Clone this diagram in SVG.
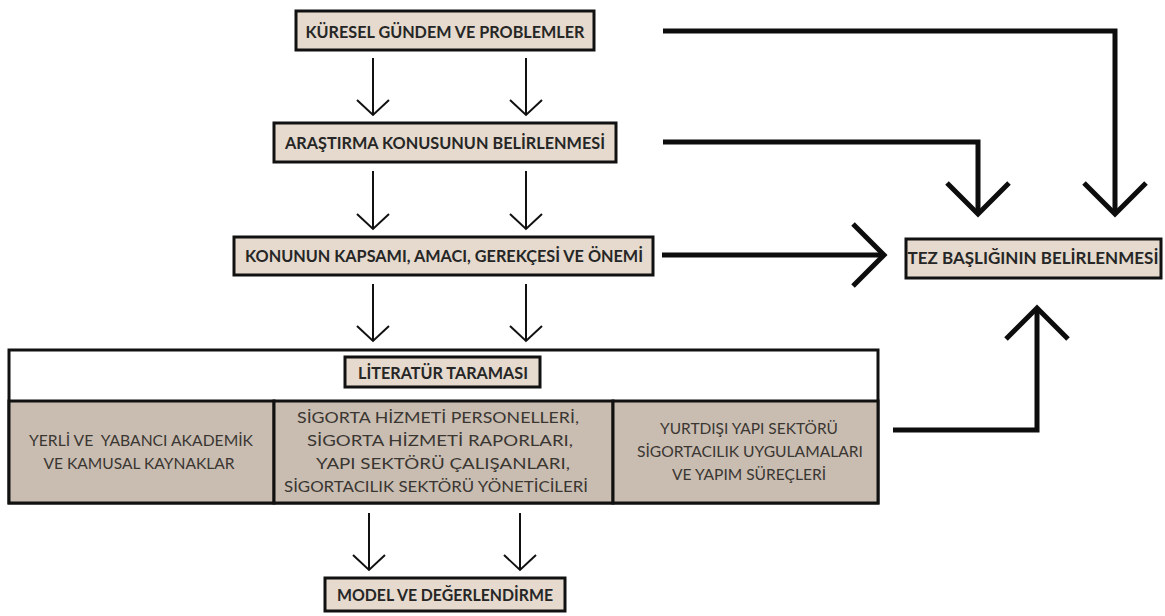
<svg xmlns="http://www.w3.org/2000/svg" width="1165" height="616" viewBox="0 0 1165 616">
<style>
.box{fill:#e5dacd;stroke:#111;stroke-width:3}
.cell{fill:#c9bdb1;stroke:#111;stroke-width:3}
.outer{fill:#fff;stroke:#111;stroke-width:3}
.ht{font-family:Lato,"Open Sans","Liberation Sans",sans-serif;font-weight:700;font-size:17px;fill:#262626;text-anchor:middle}
.ct{font-family:Lato,"Open Sans","Liberation Sans",sans-serif;font-weight:400;font-size:16px;fill:#3a3632;text-anchor:middle;white-space:pre}
.thin{fill:none;stroke:#111;stroke-width:2;marker-end:url(#hThin)}
.thick{fill:none;stroke:#0d0d0d;stroke-width:5;stroke-linejoin:miter;marker-end:url(#hThick)}
</style>
<defs>
<marker id="hThin" markerUnits="userSpaceOnUse" viewBox="-40 -40 80 80" markerWidth="80" markerHeight="80" refX="0" refY="0" orient="auto" overflow="visible">
<path d="M-15,-16 L0,0 L-15,16" fill="none" stroke="#111" stroke-width="2"/>
</marker>
<marker id="hThick" markerUnits="userSpaceOnUse" viewBox="-60 -60 120 120" markerWidth="120" markerHeight="120" refX="0" refY="0" orient="auto" overflow="visible">
<path d="M-31,-31 L0,0 L-31,31" fill="none" stroke="#0d0d0d" stroke-width="5" stroke-linejoin="miter"/>
</marker>
</defs>
<rect width="1165" height="616" fill="#fff"/>

<g id="n-kuresel">
<rect class="box" x="296" y="11" width="298" height="39"/>
<text class="ht" x="445" y="37.5" font-size="18.5" textLength="279" lengthAdjust="spacingAndGlyphs">KÜRESEL GÜNDEM VE PROBLEMLER</text>
</g>
<g id="n-arastirma">
<rect class="box" x="274" y="123" width="342" height="39"/>
<text class="ht" x="445" y="148.5" font-size="17.5" textLength="320" lengthAdjust="spacingAndGlyphs">ARAŞTIRMA KONUSUNUN BELİRLENMESİ</text>
</g>
<g id="n-kapsam">
<rect class="box" x="234" y="237" width="419" height="38"/>
<text class="ht" x="444" y="262" font-size="16.5" textLength="398" lengthAdjust="spacingAndGlyphs">KONUNUN KAPSAMI, AMACI, GEREKÇESİ VE ÖNEMİ</text>
</g>
<g id="n-tez">
<rect class="box" x="906" y="239" width="255" height="39"/>
<text class="ht" x="1033" y="264" font-size="14">TEZ BAŞLIĞININ BELİRLENMESİ</text>
</g>
<g id="n-literatur">
<rect class="outer" x="9" y="350" width="869" height="153"/>
<rect class="cell" x="9" y="401" width="265" height="102"/>
<rect class="cell" x="274" y="401" width="339" height="102"/>
<rect class="cell" x="613" y="401" width="265" height="102"/>
<rect class="box" x="345" y="357" width="195" height="30"/>
<text class="ht" x="443" y="378.5" font-size="16" textLength="170" lengthAdjust="spacingAndGlyphs">LİTERATÜR TARAMASI</text>
<text class="ct" x="141" y="446" textLength="224" lengthAdjust="spacingAndGlyphs">YERLİ VE  YABANCI AKADEMİK</text>
<text class="ct" x="139" y="469" textLength="191" lengthAdjust="spacingAndGlyphs">VE KAMUSAL KAYNAKLAR</text>
<text class="ct" x="438" y="423" textLength="282" lengthAdjust="spacingAndGlyphs">SİGORTA HİZMETİ PERSONELLERİ,</text>
<text class="ct" x="440" y="446" textLength="266" lengthAdjust="spacingAndGlyphs">SİGORTA HİZMETİ RAPORLARI,</text>
<text class="ct" x="443" y="469" textLength="254" lengthAdjust="spacingAndGlyphs">YAPI SEKTÖRÜ ÇALIŞANLARI,</text>
<text class="ct" x="436" y="492" textLength="304" lengthAdjust="spacingAndGlyphs">SİGORTACILIK SEKTÖRÜ YÖNETİCİLERİ</text>
<text class="ct" x="749" y="434" textLength="178" lengthAdjust="spacingAndGlyphs">YURTDIŞI YAPI SEKTÖRÜ</text>
<text class="ct" x="750" y="457" textLength="226" lengthAdjust="spacingAndGlyphs">SİGORTACILIK UYGULAMALARI</text>
<text class="ct" x="749" y="480" textLength="154" lengthAdjust="spacingAndGlyphs">VE YAPIM SÜREÇLERİ</text>
</g>
<g id="n-model">
<rect class="box" x="325" y="578" width="240" height="33"/>
<text class="ht" x="445" y="601" font-size="17.5" textLength="216" lengthAdjust="spacingAndGlyphs">MODEL VE DEĞERLENDİRME</text>
</g>

<g id="connectors">
<path class="thin" d="M373,58 V115"/>
<path class="thin" d="M526,58 V115"/>
<path class="thin" d="M373,171 V229"/>
<path class="thin" d="M526,171 V229"/>
<path class="thin" d="M373,284 V341"/>
<path class="thin" d="M526,284 V341"/>
<path class="thin" d="M369,513 V570"/>
<path class="thin" d="M520,513 V570"/>
<path class="thick" d="M663,31 H1115 V214"/>
<path class="thick" d="M663,142 H978 V214"/>
<path class="thick" d="M662,255 H884"/>
<path class="thick" d="M893,430 H1037 V308"/>
</g>
</svg>
